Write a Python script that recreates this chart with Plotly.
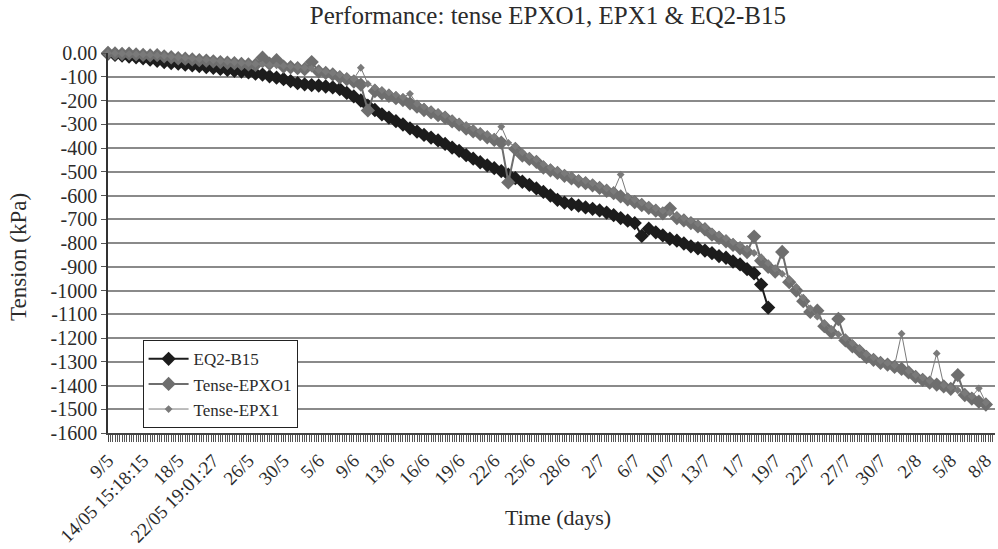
import plotly.graph_objects as go

# ---- data ----
x_labels = ["9/5", "14/05 15:18:15", "18/5", "22/05 19:01:27", "26/5", "30/5", "5/6", "9/6",
            "13/6", "16/6", "19/6", "22/6", "25/6", "28/6", "2/7", "6/7", "10/7", "13/7",
            "1/7", "19/7", "22/7", "27/7", "30/7", "2/8", "5/8", "8/8"]
points_per_label = 5

eq2_b15 = [-3, -8, -11, -15, -18, -22, -28, -33, -38, -42,
           -45, -49, -52, -55, -59, -62, -67, -71, -75, -78,
           -82, -87, -91, -98, -104, -110, -118, -127, -132, -135,
           -137, -141, -145, -152, -168, -183, -200, -222, -240, -258,
           -272, -287, -301, -317, -331, -345, -356, -368, -383, -398,
           -412, -430, -445, -460, -473, -485, -497, -512, -527, -542,
           -555, -570, -585, -600, -618, -630, -636, -643, -650, -656,
           -663, -672, -683, -695, -706, -716, -770, -740, -755, -768,
           -782, -790, -802, -814, -822, -832, -843, -855, -862, -878,
           -890, -910, -928, -975, -1072]

tense_epxo1 = [0, -2, -4, -3, -6, -8, -10, -9, -14, -18,
               -22, -24, -27, -30, -32, -35, -38, -41, -43, -46,
               -48, -50, -20, -45, -30, -57, -60, -64, -68, -38,
               -78, -84, -90, -102, -110, -120, -133, -242, -160, -170,
               -180, -190, -198, -212, -226, -240, -250, -262, -272, -288,
               -302, -318, -330, -342, -355, -366, -377, -545, -404, -432,
               -446, -458, -482, -494, -505, -517, -528, -540, -548, -557,
               -568, -580, -590, -604, -616, -628, -640, -652, -664, -675,
               -655, -695, -705, -716, -730, -742, -765, -778, -793, -808,
               -822, -838, -773, -875, -900, -920, -838, -965, -1000, -1045,
               -1090, -1085, -1150, -1175, -1120, -1210, -1235, -1255, -1280, -1292,
               -1305, -1312, -1322, -1330, -1345, -1364, -1376, -1388, -1396, -1404,
               -1414, -1356, -1440, -1455, -1468, -1480]

tense_epx1 = [0, -1, -2, -4, -5, -6, -8, -10, -12, -15,
              -18, -20, -23, -26, -28, -31, -34, -36, -39, -42,
              -44, -46, -48, -50, -52, -54, -56, -58, -62, -66,
              -72, -78, -84, -92, -100, -110, -62, -130, -145, -156,
              -166, -176, -186, -172, -214, -226, -238, -250, -262, -276,
              -290, -304, -317, -330, -342, -353, -310, -378, -392, -418,
              -434, -448, -468, -482, -494, -506, -517, -528, -538, -548,
              -558, -570, -581, -512, -606, -618, -630, -642, -654, -664,
              -674, -684, -695, -706, -718, -732, -752, -766, -780, -796,
              -810, -826, -842, -860, -885, -908, -930, -955, -985, -1030,
              -1075, -1110, -1140, -1165, -1185, -1200, -1222, -1245, -1268, -1282,
              -1296, -1305, -1315, -1182, -1338, -1355, -1367, -1380, -1265, -1398,
              -1408, -1420, -1432, -1446, -1412, -1472]

y_tick_values = list(range(0, -1700, -100))
y_tick_text = ["0.00"] + [str(v) for v in y_tick_values[1:]]

# ---- figure ----
SERIF = "Liberation Serif, Times New Roman, serif"
TXT = "#2b2b2b"

fig = go.Figure()
fig.add_trace(go.Scatter(
    x=list(range(len(eq2_b15))), y=eq2_b15, name="EQ2-B15", mode="lines+markers",
    line=dict(color="#1c1c1c", width=2),
    marker=dict(symbol="diamond", size=11, color="#1c1c1c"), cliponaxis=False))
fig.add_trace(go.Scatter(
    x=list(range(len(tense_epxo1))), y=tense_epxo1, name="Tense-EPXO1", mode="lines+markers",
    line=dict(color="#6e6e6e", width=2),
    marker=dict(symbol="diamond", size=11, color="#6e6e6e"), cliponaxis=False))
fig.add_trace(go.Scatter(
    x=list(range(len(tense_epx1))), y=tense_epx1, name="Tense-EPX1", mode="lines+markers",
    line=dict(color="#7a7a7a", width=1),
    marker=dict(symbol="diamond", size=6, color="#7a7a7a"), cliponaxis=False))

last = (len(x_labels) - 1) * points_per_label
fig.update_layout(
    width=998, height=549,
    margin=dict(l=108, r=3, t=53, b=116, autoexpand=False),
    paper_bgcolor="white", plot_bgcolor="white",
    font=dict(family=SERIF, color=TXT),
    title=dict(text="Performance: tense EPXO1, EPX1 & EQ2-B15", x=0.549, xanchor="center",
               y=1 - 15 / 549, yanchor="middle", font=dict(size=25, family=SERIF, color=TXT)),
    showlegend=True,
    legend=dict(x=0.039, y=0.244, xanchor="left", yanchor="top",
                bgcolor="white", bordercolor="#222", borderwidth=1,
                font=dict(size=17, family=SERIF, color=TXT), tracegroupgap=0,
                itemwidth=40),
    annotations=[
        dict(text="Time (days)", xref="paper", yref="paper", x=0.507, y=(433 - 517) / 380,
             xanchor="center", yanchor="middle", showarrow=False,
             font=dict(size=22, family=SERIF, color=TXT)),
        dict(text="Tension (kPa)", xref="paper", yref="paper", x=(18 - 108) / 887,
             y=(433 - 257) / 380, xanchor="center", yanchor="middle", showarrow=False,
             textangle=-90, font=dict(size=23, family=SERIF, color=TXT)),
    ],
)
fig.update_xaxes(
    range=[0, last + 1.3], automargin=False, ticklabeloverflow="allow",
    tickmode="array", tickvals=[i * points_per_label for i in range(len(x_labels))],
    ticktext=x_labels, tickangle=-45, tickfont=dict(size=19, family=SERIF, color=TXT),
    ticks="outside", ticklen=7, tickcolor="#444", tickwidth=1,
    minor=dict(dtick=1 / 3, tick0=0, ticks="outside", ticklen=7, tickcolor="#555", tickwidth=1,
               showgrid=False),
    showgrid=False, zeroline=False,
    showline=True, linecolor="#444", linewidth=2,
)
fig.update_yaxes(
    range=[-1600, 0], automargin=False,
    tickmode="array", tickvals=y_tick_values, ticktext=y_tick_text,
    tickfont=dict(size=20, family=SERIF, color=TXT),
    ticks="outside", ticklen=5, tickcolor="#555", tickwidth=1,
    showgrid=True, gridcolor="#8a8a8a", gridwidth=2,
    zeroline=False, showline=True, linecolor="#333", linewidth=1.5,
)

fig.write_html("out.html")
